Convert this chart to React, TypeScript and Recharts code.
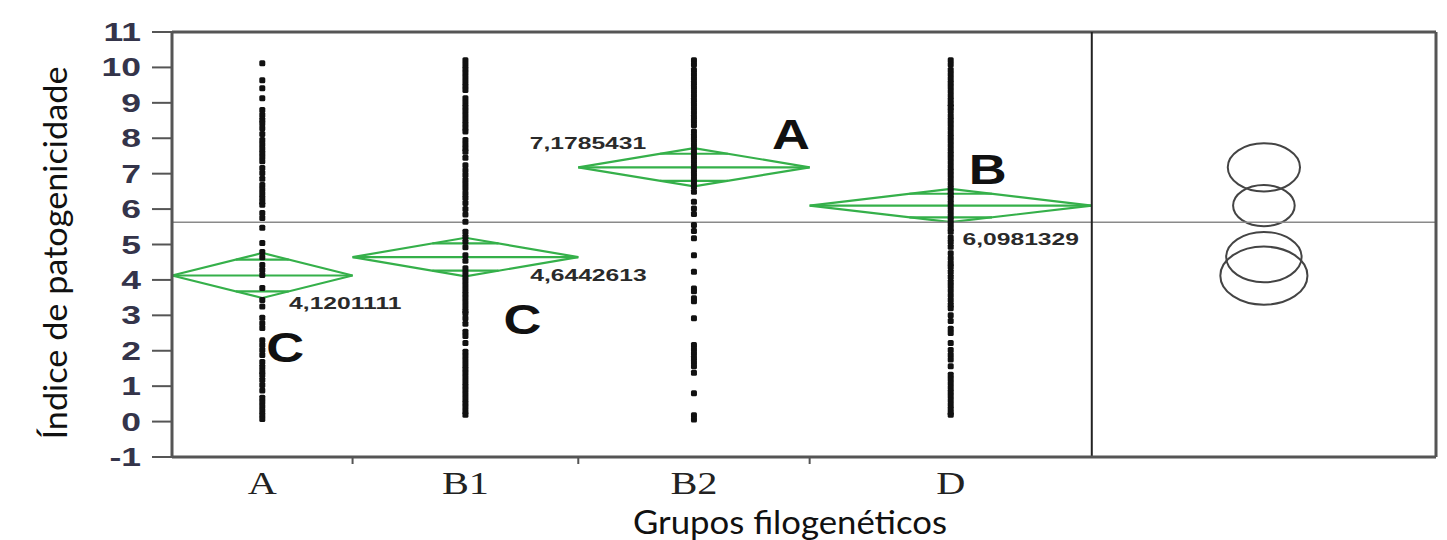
import React from 'react';
import { ComposedChart, XAxis, YAxis, Scatter, ReferenceLine, ReferenceArea } from 'recharts';

// ---- data ----
const groups = ['A', 'B1', 'B2', 'D'];
// group sizes (JMP draws group widths proportional to n)
const groupSizes = [32, 40, 41, 50];
const means = [4.1201111, 4.6442613, 7.1785431, 6.0981329];
const ciLower = [3.49, 4.10, 6.64, 5.63];
const ciUpper = [4.76, 5.19, 7.72, 6.57];
const circleRadii = [0.82, 0.71, 0.68, 0.58];
const tukeyLetters = ['C', 'C', 'A', 'B'];
const comparisonPanelSize = 61;
const yTicks = [-1, 0, 1, 2, 3, 4, 5, 6, 7, 8, 9, 10, 11];

const pointsA = [10.12, 9.64, 9.41, 9.13, 8.8, 8.66, 8.52, 8.42, 8.28, 8.12, 7.95, 7.83, 7.71, 7.59, 7.47, 7.35,
  7.16, 7.02, 6.86, 6.68, 6.56, 6.44, 6.32, 6.2, 6.12, 5.89, 5.75, 5.47, 5.04, 4.79, 4.64, 4.42, 4.28, 4.14,
  3.77, 3.43, 3.25, 2.93, 2.78, 2.64, 2.3, 2.16, 2.02, 1.88, 1.68, 1.55, 1.42, 1.32, 1.18, 1.03, 0.88,
  0.67, 0.55, 0.43, 0.31, 0.19, 0.07];
const pointsB1 = [10.2, 10.08, 9.96, 9.84, 9.72, 9.6, 9.48, 9.36, 9.13, 9.01, 8.89, 8.77, 8.65, 8.53, 8.41, 8.29, 8.19,
  7.95, 7.83, 7.72, 7.62, 7.45, 7.24, 7.1, 6.96, 6.82, 6.7, 6.58, 6.45, 6.32, 6.17, 6.0, 5.85, 5.64, 5.36, 5.22,
  5.08, 4.92, 4.7, 4.54, 4.33, 4.21, 4.09, 3.97, 3.85, 3.73, 3.61, 3.49, 3.37, 3.25, 3.13, 3.06, 2.92, 2.76,
  2.54, 2.42, 2.22, 1.97, 1.85, 1.73, 1.61, 1.49, 1.37, 1.25, 1.13, 1.01, 0.89, 0.77, 0.65, 0.53, 0.41, 0.29, 0.19];
const pointsB2 = [10.2, 10.08, 9.93, 9.81, 9.69, 9.57, 9.45, 9.33, 9.21, 9.09, 8.97, 8.85, 8.73, 8.61, 8.49, 8.37,
  8.19, 8.07, 7.95, 7.83, 7.71, 7.59, 7.47, 7.35, 7.23, 7.11, 6.99, 6.87, 6.75, 6.63, 6.49, 6.21, 6.02, 5.86,
  5.55, 5.38, 5.18, 4.7, 4.23, 3.76, 3.68, 3.48, 3.4, 2.92, 2.16, 2.04, 1.92, 1.8, 1.68, 1.56, 1.38, 0.8, 0.18, 0.06];
const pointsD = [10.2, 10.08, 9.93, 9.81, 9.69, 9.57, 9.45, 9.33, 9.21, 9.09, 8.97, 8.89, 8.78, 8.64,
  8.52, 8.4, 8.28, 8.16, 8.04, 7.92, 7.8, 7.68, 7.56, 7.44, 7.32, 7.2, 7.08, 6.96, 6.84, 6.72, 6.6, 6.48, 6.4,
  6.3, 6.18, 6.06, 5.94, 5.82, 5.7, 5.58, 5.46, 5.36, 5.2, 5.08, 4.94, 4.75, 4.61, 4.48, 4.37, 4.23, 4.09,
  3.95, 3.83, 3.7, 3.57, 3.43, 3.3, 3.2, 3.0, 2.84, 2.62, 2.5, 2.22, 2.02, 1.88, 1.75, 1.56,
  1.32, 1.2, 1.08, 0.96, 0.84, 0.72, 0.6, 0.48, 0.36, 0.24, 0.19];
const groupPoints = [pointsA, pointsB1, pointsB2, pointsD];

// ---- derived ----
const starts: number[] = [];
groupSizes.reduce((acc, n) => { starts.push(acc); return acc + n; }, 0);
const ends = groupSizes.map((n, i) => starts[i] + n);
const centers = groupSizes.map((n, i) => starts[i] + n / 2);
const totalN = groupSizes.reduce((a, b) => a + b, 0);
const xMax = totalN + comparisonPanelSize;
const panelCenter = totalN + comparisonPanelSize / 2;
const grandMean = means.reduce((s, m, i) => s + m * groupSizes[i], 0) / totalN;
const boundaries = ends.slice(0, -1);
const xTicks = [...centers, ...boundaries].sort((a, b) => a - b);

// ---- styles ----
const GREEN = '#35b04a';
const FRAME = '#555';
const W = 1447;
const H = 540;
const valueLabelOffsets = [[83, 27], [123, 18], [-106, -24], [70, 33]];
const letterOffsets = [[23, 71], [57, 62], [97, -33], [37, -37]];

const YTick = (props: any) => {
  const { x, y, payload } = props;
  return (
    <g transform={`translate(${x},${y})`}>
      <text transform="scale(1.42,1)" textAnchor="end" dy="0.36em" fontFamily="'Liberation Sans', Arial, sans-serif"
        fontWeight="bold" fontSize={25} fill="#34344a">{payload.value}</text>
    </g>
  );
};

const XTick = (props: any) => {
  const { x, y, payload } = props;
  const idx = centers.indexOf(payload.value);
  if (idx < 0) {
    return <line x1={x} x2={x} y1={y - 7} y2={y} stroke={FRAME} strokeWidth={2} />;
  }
  return (
    <g transform={`translate(${x},${y})`}>
      <text transform="scale(1.3,1)" textAnchor="middle" y={30} fontFamily="'Liberation Serif', 'Times New Roman', serif"
        fontSize={31} fill="#222">{groups[idx]}</text>
    </g>
  );
};

const Diamond = (props: any) => {
  const { x, y, width, height } = props;
  const cx = x + width / 2;
  const cy = y + height / 2;
  const h = height / 2;
  const k = 1 / Math.SQRT2;
  const dx = (width / 2) * (1 - k);
  const pts = `${x},${cy} ${cx},${y} ${x + width},${cy} ${cx},${y + height}`;
  return (
    <g stroke={GREEN} strokeWidth={2.2} fill="none">
      <polygon points={pts} strokeLinejoin="miter" />
      <line x1={x} x2={x + width} y1={cy} y2={cy} />
      <line x1={cx - dx} x2={cx + dx} y1={cy - h * k} y2={cy - h * k} />
      <line x1={cx - dx} x2={cx + dx} y1={cy + h * k} y2={cy + h * k} />
    </g>
  );
};

const Circle = (props: any) => {
  const { x, y, width, height } = props;
  const ry = height / 2;
  return <ellipse cx={x + width / 2} cy={y + ry} rx={ry * 1.5} ry={ry} fill="none" stroke="#444" strokeWidth={2} />;
};

const Dot = (props: any) => {
  const { cx, cy } = props;
  return <rect x={cx - 3} y={cy - 3} width={6} height={6} rx={1.5} fill="#111" />;
};

const Annotation = (props: any) => {
  const { cx, cy, payload } = props;
  const i = payload.i;
  const [vx, vy] = valueLabelOffsets[i];
  const [lx, ly] = letterOffsets[i];
  return (
    <g>
      <g transform={`translate(${cx + vx},${cy + vy})`}>
        <text transform="scale(1.45,1)" textAnchor="middle" dy="0.36em" fontFamily="'Liberation Sans', Arial, sans-serif"
          fontWeight="bold" fontSize={17} fill="#2a2a2a">{means[i].toFixed(7).replace('.', ',')}</text>
      </g>
      <g transform={`translate(${cx + lx},${cy + ly})`}>
        <text transform="scale(1.25,1)" textAnchor="middle" dy="0.36em" fontFamily="'Liberation Sans', Arial, sans-serif"
          fontWeight="bold" fontSize={42} fill="#111">{tukeyLetters[i]}</text>
      </g>
    </g>
  );
};

const annotationData = groups.map((g, i) => ({ x: centers[i], y: means[i], i }));

export default function App() {
  return (
    <div style={{ position: 'absolute', left: 0, top: 0, width: W, height: H, background: '#fff' }}>
      <ComposedChart width={W} height={H} margin={{ top: 32, right: 11, left: 0, bottom: 0 }}>
        <XAxis type="number" dataKey="x" domain={[0, xMax]} ticks={xTicks} interval={0} height={83}
          axisLine={{ stroke: FRAME, strokeWidth: 3 }} tickLine={false} tickSize={7} tickMargin={0}
          tick={<XTick />} allowDataOverflow
          label={{
            content: () => (
              <text x={790} y={522} dy="0.36em" textAnchor="middle" fontFamily="Lato, 'Open Sans', sans-serif"
                fontSize={33} fill="#111" textLength={314} lengthAdjust="spacingAndGlyphs">Grupos filogenéticos</text>
            ),
          }} />
        <YAxis type="number" dataKey="y" domain={[-1, 11]} ticks={yTicks} interval={0} width={172}
          axisLine={{ stroke: FRAME, strokeWidth: 3 }} tickLine={{ stroke: FRAME, strokeWidth: 2 }}
          tickSize={20} tickMargin={11} tick={<YTick />} allowDataOverflow
          label={{
            content: () => (
              <text transform="translate(55,253) rotate(-90)" dy="0.36em" textAnchor="middle"
                fontFamily="Lato, 'Open Sans', sans-serif" fontSize={33} fill="#111" textLength={373}
                lengthAdjust="spacingAndGlyphs">Índice de patogenicidade</text>
            ),
          }} />
        <ReferenceLine y={grandMean} stroke="#8a8a8a" strokeWidth={1.5} />
        <ReferenceLine y={11} stroke={FRAME} strokeWidth={3} />
        <ReferenceLine x={xMax} stroke={FRAME} strokeWidth={3} />
        <ReferenceLine x={totalN} stroke="#222" strokeWidth={2} />
        {groups.map((g, i) => (
          <ReferenceArea key={'d' + g} x1={starts[i]} x2={ends[i]} y1={ciLower[i]} y2={ciUpper[i]}
            shape={(p: any) => <Diamond {...p} />} />
        ))}
        {groups.map((g, i) => (
          <ReferenceArea key={'c' + g} x1={panelCenter - 1} x2={panelCenter + 1}
            y1={means[i] - circleRadii[i]} y2={means[i] + circleRadii[i]} shape={(p: any) => <Circle {...p} />} />
        ))}
        {groups.map((g, i) => (
          <Scatter key={'p' + g} data={groupPoints[i].map((v) => ({ x: centers[i], y: v }))} dataKey="y"
            isAnimationActive={false} shape={(p: any) => <Dot {...p} />} />
        ))}
        <Scatter data={annotationData} dataKey="y" isAnimationActive={false}
          shape={(p: any) => <Annotation {...p} />} />
      </ComposedChart>
    </div>
  );
}
